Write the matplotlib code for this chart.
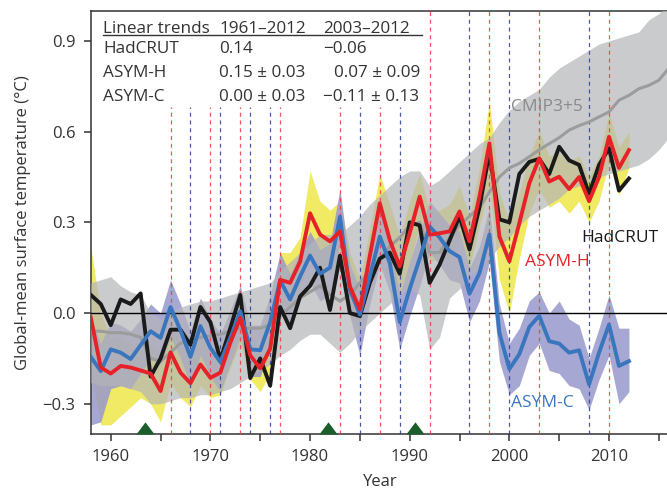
import numpy as np
import matplotlib.pyplot as plt
from matplotlib.lines import Line2D

plt.rcParams['font.family'] = ['Open Sans', 'DejaVu Sans']

# data
years = np.arange(1958, 2013)
cmip_years = np.arange(1958, 2017)

hadcrut = [0.06, 0.03, -0.04, 0.045, 0.03, 0.065, -0.21, -0.15, -0.055, -0.055,
           -0.105, 0.02, -0.03, -0.155, -0.05, 0.06, -0.215, -0.15, -0.24, 0.02,
           -0.05, 0.055, 0.09, 0.15, 0.01, 0.19, 0.0, -0.01, 0.1, 0.18,
           0.2, 0.13, 0.3, 0.29, 0.1, 0.16, 0.24, 0.32, 0.21, 0.35,
           0.53, 0.31, 0.3, 0.46, 0.5, 0.51, 0.46, 0.55, 0.505, 0.49,
           0.395, 0.49, 0.545, 0.405, 0.445]

asym_h = [-0.015, -0.18, -0.2, -0.175, -0.18, -0.19, -0.2, -0.258, -0.13, -0.197,
          -0.232, -0.17, -0.214, -0.197, -0.098, -0.016, -0.14, -0.183, -0.118, 0.11,
          0.1, 0.17, 0.33, 0.26, 0.237, 0.27, 0.088, 0.012, 0.19, 0.363,
          0.242, 0.154, 0.264, 0.385, 0.259, 0.264, 0.27, 0.336, 0.237, 0.385,
          0.561, 0.253, 0.171, 0.297, 0.429, 0.512, 0.435, 0.451, 0.41, 0.45,
          0.37, 0.45, 0.583, 0.48, 0.539]
asym_h_hi = [0.22, 0.0, -0.08, -0.08, -0.1, -0.1, -0.1, -0.14, -0.03, -0.1,
             -0.14, -0.08, -0.13, -0.12, -0.02, 0.06, -0.07, -0.12, -0.04, 0.2,
             0.2, 0.25, 0.47, 0.37, 0.34, 0.37, 0.2, 0.11, 0.28, 0.46,
             0.36, 0.25, 0.37, 0.46, 0.34, 0.34, 0.36, 0.42, 0.32, 0.48,
             0.7, 0.4, 0.3, 0.4, 0.52, 0.6, 0.52, 0.53, 0.5, 0.52,
             0.45, 0.52, 0.66, 0.55, 0.6]
asym_h_lo = [-0.2, -0.37, -0.37, -0.34, -0.31, -0.28, -0.3, -0.36, -0.23, -0.28,
             -0.31, -0.24, -0.28, -0.27, -0.18, -0.1, -0.22, -0.26, -0.2, 0.03,
             0.02, 0.08, 0.2, 0.15, 0.13, 0.16, -0.01, -0.06, 0.1, 0.26,
             0.14, 0.06, 0.16, 0.29, 0.17, 0.18, 0.18, 0.25, 0.15, 0.29,
             0.42, 0.11, 0.0, 0.18, 0.33, 0.41, 0.35, 0.37, 0.33, 0.37,
             0.3, 0.37, 0.5, 0.39, 0.48]

asym_c = [-0.145, -0.192, -0.12, -0.131, -0.152, -0.106, -0.06, -0.082, 0.02, -0.057,
          -0.145, -0.043, -0.115, -0.162, -0.082, 0.006, -0.12, -0.123, -0.03, 0.108,
          0.045, 0.121, 0.19, 0.13, 0.15, 0.319, 0.077, -0.005, 0.121, 0.253,
          0.166, -0.03, 0.08, 0.18, 0.286, 0.25, 0.205, 0.185, 0.064, 0.132,
          0.26, -0.065, -0.185, -0.136, -0.046, -0.009, -0.093, -0.101, -0.131, -0.123,
          -0.236, -0.131, -0.038, -0.175, -0.159]
asym_c_hi = [-0.02, -0.1, -0.03, -0.04, -0.06, -0.02, 0.03, 0.0, 0.11, 0.03,
             -0.06, 0.05, -0.02, -0.07, 0.01, 0.09, -0.04, -0.04, 0.06, 0.2,
             0.13, 0.2, 0.27, 0.21, 0.23, 0.41, 0.16, 0.08, 0.2, 0.34,
             0.25, 0.06, 0.17, 0.27, 0.37, 0.33, 0.29, 0.27, 0.15, 0.22,
             0.35, 0.03, -0.1, -0.05, 0.04, 0.07, 0.0, 0.04, -0.02, -0.04,
             -0.15, -0.05, 0.06, -0.05, -0.05]
asym_c_lo = [-0.37, -0.36, -0.25, -0.24, -0.25, -0.2, -0.15, -0.17, -0.08, -0.15,
             -0.24, -0.14, -0.21, -0.26, -0.17, -0.08, -0.21, -0.21, -0.12, 0.02,
             -0.04, 0.04, 0.1, 0.04, 0.06, 0.23, -0.01, -0.14, 0.03, 0.16,
             0.07, -0.12, -0.01, 0.09, 0.2, 0.16, 0.11, 0.1, -0.03, 0.04,
             0.17, -0.16, -0.27, -0.24, -0.14, -0.1, -0.19, -0.2, -0.24, -0.25,
             -0.32, -0.22, -0.14, -0.3, -0.26]

cmip = [-0.06, -0.06, -0.065, -0.065, -0.07, -0.08, -0.15, -0.16, -0.13, -0.1,
        -0.09, -0.08, -0.075, -0.07, -0.06, -0.05, -0.05, -0.05, -0.04, -0.01,
        0.02, 0.05, 0.07, 0.09, 0.06, 0.04, 0.06, 0.1, 0.14, 0.18,
        0.22, 0.25, 0.29, 0.3, 0.2, 0.2, 0.25, 0.29, 0.32, 0.35,
        0.4, 0.45, 0.48, 0.495, 0.517, 0.54, 0.56, 0.58, 0.605, 0.62,
        0.632, 0.649, 0.665, 0.704, 0.72, 0.742, 0.753, 0.77, 0.81]
cmip_hi = [0.1, 0.11, 0.12, 0.09, 0.07, 0.06, 0.0, -0.02, 0.0, 0.02,
           0.03, 0.04, 0.04, 0.05, 0.06, 0.07, 0.08, 0.09, 0.1, 0.14,
           0.17, 0.2, 0.23, 0.26, 0.26, 0.26, 0.29, 0.32, 0.36, 0.39,
           0.42, 0.45, 0.47, 0.47, 0.42, 0.44, 0.47, 0.5, 0.53, 0.56,
           0.58, 0.63, 0.67, 0.7, 0.72, 0.74, 0.78, 0.81, 0.83, 0.85,
           0.87, 0.89, 0.9, 0.91, 0.92, 0.93, 0.97, 0.99, 1.02]
cmip_lo = [-0.23, -0.24, -0.24, -0.24, -0.25, -0.26, -0.3, -0.3, -0.29, -0.28,
           -0.28, -0.27, -0.27, -0.26, -0.25, -0.23, -0.21, -0.19, -0.17, -0.14,
           -0.12, -0.09, -0.07, -0.07, -0.1, -0.13, -0.1, -0.06, -0.03, 0.0,
           0.03, 0.06, 0.08, 0.06, -0.12, -0.08, 0.05, 0.08, 0.12, 0.15,
           0.18, 0.22, 0.25, 0.29, 0.32, 0.34, 0.36, 0.38, 0.41, 0.42,
           0.43, 0.45, 0.46, 0.47, 0.48, 0.49, 0.51, 0.54, 0.58]

# warm / cold events (dashed lines) and volcanic eruptions
warm_early = [1966, 1970, 1973, 1977, 1983, 1987]
cold_early = [1968, 1971, 1974, 1976, 1985, 1989]
warm_late = [1992, 1998, 2003, 2010]
cold_late = [1996, 2000, 2008]
volcanoes = [1963.45, 1981.85, 1990.55]

# trend table
table_rows = ['HadCRUT', 'ASYM-H', 'ASYM-C']
trend_6112 = ['0.14', '0.15 \u00b1 0.03', '0.00 \u00b1 0.03']
trend_0312 = ['\u22120.06', '0.07 \u00b1 0.09', '\u22120.11 \u00b1 0.13']

# colours
c_black = '#1a1a1a'
c_red = '#e62228'
c_blue = '#3a76bd'
c_grayline = '#9c9c9c'
c_yellow = '#f0ea64'
c_purple = '#9898cc'
c_grayband = '#b4b5b8'
c_dred = '#ee3a42'
c_dblue = '#2c3c9a'

fig = plt.figure(figsize=(6.67, 4.92), dpi=100)
ax = fig.add_axes([90.8 / 667, 1 - 434 / 492, 578 / 667, (434 - 10.7) / 492])

# bands
ax.fill_between(years, asym_h_lo, asym_h_hi, color=c_yellow, lw=0, zorder=1)
ax.fill_between(years, asym_c_lo, asym_c_hi, color=c_purple, alpha=0.85, lw=0, zorder=2)
ax.fill_between(cmip_years, cmip_lo, cmip_hi, color=c_grayband, alpha=0.7, lw=0, zorder=3)

# event lines
dash = (0, (3.2, 3.0))
for yr in warm_early:
    ax.plot([yr, yr], [-0.4, 0.68], color=c_dred, lw=0.9, ls=dash, alpha=0.85, zorder=4)
for yr in cold_early:
    ax.plot([yr, yr], [-0.4, 0.68], color=c_dblue, lw=0.9, ls=dash, alpha=0.85, zorder=4)
for yr in warm_late:
    ax.plot([yr, yr], [-0.4, 1.0], color=c_dred, lw=0.9, ls=dash, alpha=0.85, zorder=4)
for yr in cold_late:
    ax.plot([yr, yr], [-0.4, 1.0], color=c_dblue, lw=0.9, ls=dash, alpha=0.85, zorder=4)

ax.axhline(0, color='black', lw=1.0, zorder=5)

# lines
ax.plot(cmip_years, cmip, color=c_grayline, lw=2.2, zorder=6)
ax.plot(years, hadcrut, color=c_black, lw=2.8, zorder=7)
ax.plot(years, asym_c, color=c_blue, lw=2.8, zorder=8)
ax.plot(years, asym_h, color=c_red, lw=2.8, zorder=9)

# volcanic eruptions
tri = [(-1.5, 0), (1.5, 0), (0, 2)]
ax.plot(volcanoes, [-0.4] * len(volcanoes), ls='none', marker=tri, ms=17.5,
        color='#1b5e2c', mec='none', clip_on=False, zorder=10)

# labels on lines
ax.text(2000.2, 0.68, 'CMIP3+5', color='#8a8a8a', fontsize=12.5, va='center', zorder=11)
ax.text(2007.2, 0.247, 'HadCRUT', color=c_black, fontsize=12.5, va='center', zorder=11)
ax.text(2001.6, 0.168, 'ASYM-H', color=c_red, fontsize=12.5, va='center', zorder=11)
ax.text(2000.2, -0.298, 'ASYM-C', color=c_blue, fontsize=12.5, va='center', zorder=11)

# axes
ax.set_xlim(1958, 2016)
ax.set_ylim(-0.4, 1.0)
ax.set_xticks(np.arange(1960, 2016, 5))
ax.set_xticklabels([str(y) if y % 10 == 0 else '' for y in np.arange(1960, 2016, 5)])
ax.set_yticks([-0.3, 0.0, 0.3, 0.6, 0.9])
ax.set_yticklabels(['\u22120.3', '0.0', '0.3', '0.6', '0.9'])
ax.tick_params(direction='out', length=5, width=1.1, labelsize=12, colors='#333333',
               labelcolor='#333333')
ax.tick_params(axis='y', pad=6)
ax.tick_params(axis='x', pad=6)
for side in ['left', 'bottom', 'top']:
    ax.spines[side].set_linewidth(1.1)
    ax.spines[side].set_color('#333333')
ax.spines['right'].set_visible(False)

ax.set_xlabel('Year', fontsize=12, color='#333333', labelpad=6)
ax.set_ylabel('Global-mean surface temperature (\u00b0C)', fontsize=12, color='#333333',
              labelpad=8)

# trend table
tc = '#333333'
fs = 12.3
fig.text(103 / 667, 1 - 33.3 / 492, 'Linear trends', fontsize=fs, color=tc, va='baseline')
fig.text(219.3 / 667, 1 - 33.3 / 492, '1961\u20132012', fontsize=fs, color=tc, va='baseline')
fig.text(322.7 / 667, 1 - 33.3 / 492, '2003\u20132012', fontsize=fs, color=tc, va='baseline')
fig.add_artist(Line2D([103 / 667, 422 / 667], [1 - 35 / 492, 1 - 35 / 492],
                      color=tc, lw=1.0, transform=fig.transFigure))
row_y = [53.3, 77.3, 100.7]
col3_x = [322.7, 334.3, 322.7]
for name, a, b, yy, x3 in zip(table_rows, trend_6112, trend_0312, row_y, col3_x):
    fig.text(103 / 667, 1 - yy / 492, name, fontsize=fs, color=tc, va='baseline')
    fig.text(219.3 / 667, 1 - yy / 492, a, fontsize=fs, color=tc, va='baseline')
    fig.text(x3 / 667, 1 - yy / 492, b, fontsize=fs, color=tc, va='baseline')

fig.savefig('out.png', dpi=100)
